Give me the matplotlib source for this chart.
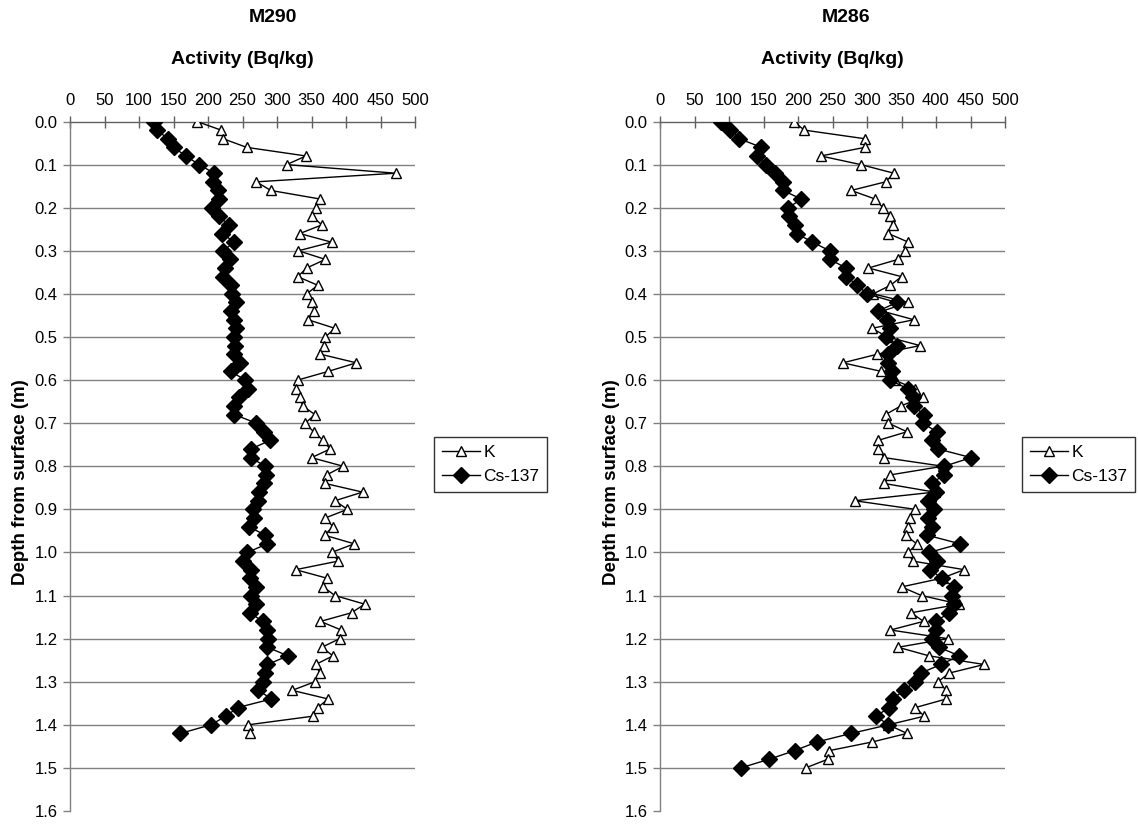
import matplotlib
matplotlib.use("Agg")
import matplotlib.pyplot as plt
from matplotlib.lines import Line2D

plt.rcParams['font.family'] = ['Liberation Sans', 'DejaVu Sans']

# ---------------- data ----------------
depth_m290 = [0.00, 0.02, 0.04, 0.06, 0.08, 0.10, 0.12, 0.14, 0.16, 0.18,
              0.20, 0.22, 0.24, 0.26, 0.28, 0.30, 0.32, 0.34, 0.36, 0.38,
              0.40, 0.42, 0.44, 0.46, 0.48, 0.50, 0.52, 0.54, 0.56, 0.58,
              0.60, 0.62, 0.64, 0.66, 0.68, 0.70, 0.72, 0.74, 0.76, 0.78,
              0.80, 0.82, 0.84, 0.86, 0.88, 0.90, 0.92, 0.94, 0.96, 0.98,
              1.00, 1.02, 1.04, 1.06, 1.08, 1.10, 1.12, 1.14, 1.16, 1.18,
              1.20, 1.22, 1.24, 1.26, 1.28, 1.30, 1.32, 1.34, 1.36, 1.38,
              1.40, 1.42]
k_m290 = [184, 219, 222, 256, 342, 314, 472, 270, 291, 363,
          356, 351, 365, 333, 379, 331, 370, 343, 330, 359,
          343, 351, 354, 345, 384, 370, 368, 363, 415, 374,
          330, 327, 334, 337, 355, 341, 353, 367, 377, 350,
          396, 372, 370, 424, 384, 402, 370, 381, 369, 412,
          379, 389, 327, 373, 367, 384, 427, 408, 363, 393,
          391, 365, 381, 356, 362, 355, 322, 374, 359, 352,
          258, 261]
cs_m290 = [122, 126, 142, 150, 168, 187, 209, 207, 215, 216,
           206, 216, 230, 221, 238, 222, 232, 224, 222, 234,
           235, 241, 234, 237, 241, 238, 239, 238, 246, 233,
           254, 258, 245, 237, 238, 270, 281, 290, 262, 262,
           283, 284, 281, 274, 273, 265, 267, 259, 283, 286,
           257, 250, 262, 261, 270, 263, 270, 261, 279, 285,
           287, 286, 316, 286, 283, 279, 273, 292, 243, 226,
           204, 160]

depth_m286 = [0.00, 0.02, 0.04, 0.06, 0.08, 0.10, 0.12, 0.14, 0.16, 0.18,
              0.20, 0.22, 0.24, 0.26, 0.28, 0.30, 0.32, 0.34, 0.36, 0.38,
              0.40, 0.42, 0.44, 0.46, 0.48, 0.50, 0.52, 0.54, 0.56, 0.58,
              0.60, 0.62, 0.64, 0.66, 0.68, 0.70, 0.72, 0.74, 0.76, 0.78,
              0.80, 0.82, 0.84, 0.86, 0.88, 0.90, 0.92, 0.94, 0.96, 0.98,
              1.00, 1.02, 1.04, 1.06, 1.08, 1.10, 1.12, 1.14, 1.16, 1.18,
              1.20, 1.22, 1.24, 1.26, 1.28, 1.30, 1.32, 1.34, 1.36, 1.38,
              1.40, 1.42, 1.44, 1.46, 1.48, 1.50]
k_m286 = [194, 209, 297, 297, 233, 291, 339, 327, 277, 312,
          323, 334, 337, 331, 360, 355, 345, 302, 350, 334,
          309, 360, 322, 368, 307, 330, 377, 315, 265, 321,
          340, 369, 381, 349, 327, 331, 358, 316, 316, 325,
          410, 334, 325, 398, 282, 370, 362, 360, 356, 372,
          360, 366, 441, 408, 350, 379, 434, 364, 382, 334,
          417, 345, 390, 470, 419, 403, 415, 415, 370, 383,
          331, 358, 307, 245, 243, 211]
cs_m286 = [88, 102, 115, 147, 140, 154, 166, 178, 178, 205,
           186, 187, 195, 198, 221, 246, 246, 270, 270, 286,
           300, 343, 316, 329, 333, 328, 343, 331, 331, 336,
           333, 359, 367, 368, 382, 381, 401, 394, 403, 451,
           412, 411, 394, 400, 388, 397, 388, 394, 387, 435,
           390, 401, 392, 408, 426, 423, 426, 419, 400, 400,
           394, 404, 434, 407, 378, 370, 353, 338, 332, 313,
           331, 277, 227, 195, 158, 117]

titles = ["M290", "M286"]
x_ticks = [0, 50, 100, 150, 200, 250, 300, 350, 400, 450, 500]
y_ticks = [0.0, 0.1, 0.2, 0.3, 0.4, 0.5, 0.6, 0.7, 0.8, 0.9, 1.0,
           1.1, 1.2, 1.3, 1.4, 1.5, 1.6]
series_names = ["K", "Cs-137"]

# ---------------- figure ----------------
W, H = 1138, 825
fig = plt.figure(figsize=(W / 100, H / 100), dpi=100)

panels = [
    (70, depth_m290, k_m290, cs_m290, titles[0], 273, 434),
    (660, depth_m286, k_m286, cs_m286, titles[1], 846, 1022),
]

ax_top_px, ax_bot_px = 121.5, 811
for (x0, depth, kv, csv, title, title_x, leg_x) in panels:
    ax = fig.add_axes([x0 / W, 1 - ax_bot_px / H, 345 / W,
                       (ax_bot_px - ax_top_px) / H])
    ax.set_xlim(0, 500)
    ax.set_ylim(1.6, 0)
    for t in y_ticks:
        if 0 < t < 1.6:
            ax.axhline(t, color='#808080', lw=1.0, zorder=0)
    ax.plot(kv, depth, color='black', lw=1.0, marker='^', markersize=7.5,
            markerfacecolor='white', markeredgecolor='black',
            markeredgewidth=1.0, zorder=3)
    ax.plot(csv, depth, color='black', lw=1.0, marker='D', markersize=8,
            markerfacecolor='black', markeredgecolor='black', zorder=4)

    for s in ['right', 'bottom']:
        ax.spines[s].set_visible(False)
    ax.spines['left'].set_color('#808080')
    ax.spines['top'].set_color('#606060')
    ax.spines['left'].set_linewidth(1.0)
    ax.spines['top'].set_linewidth(1.0)

    ax.xaxis.set_ticks_position('top')
    ax.xaxis.set_label_position('top')
    ax.set_xticks(x_ticks)
    ax.set_xticklabels([str(v) for v in x_ticks])
    ax.set_yticks(y_ticks)
    ax.set_yticklabels([f"{v:.1f}" for v in y_ticks])
    ax.tick_params(axis='x', direction='inout', length=8, width=1,
                   color='#606060', labelsize=12, pad=6)
    ax.tick_params(axis='y', direction='out', length=5, width=1,
                   color='#808080', labelsize=12, pad=4)
    ax.set_facecolor('none')

    fig.text((x0 + 172.5) / W, 1 - 60 / H, "Activity (Bq/kg)",
             ha='center', va='center', fontsize=14, fontweight='bold')
    fig.text(title_x / W, 1 - 18 / H, title, ha='center', va='center',
             fontsize=14, fontweight='bold')
    fig.text((x0 - 49) / W, 1 - 482 / H, "Depth from surface (m)",
             ha='center', va='center', rotation=90, fontsize=13.5,
             fontweight='bold')

    handles = [
        Line2D([], [], color='black', lw=1.0, marker='^', markersize=7.5,
               markerfacecolor='white', markeredgecolor='black'),
        Line2D([], [], color='black', lw=1.0, marker='D', markersize=8,
               markerfacecolor='black', markeredgecolor='black'),
    ]
    leg = fig.legend(handles, series_names, loc='upper left',
                     bbox_to_anchor=(leg_x / W, 1 - 437 / H),
                     frameon=True, fancybox=False, shadow=False,
                     fontsize=12.5, handlelength=2.2, handletextpad=0.2,
                     labelspacing=0.5, borderpad=0.45, borderaxespad=0)
    leg.get_frame().set_edgecolor('black')
    leg.get_frame().set_linewidth(1.0)

fig.savefig("out.png", dpi=100)
